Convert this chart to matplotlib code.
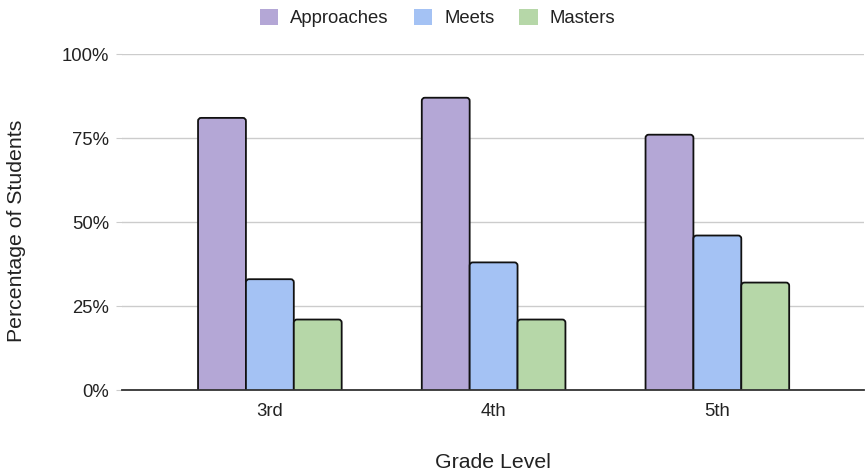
import numpy as np
import matplotlib
matplotlib.use("Agg")
import matplotlib.pyplot as plt
from matplotlib.patches import FancyBboxPatch, Patch

plt.rcParams['font.family'] = ['Liberation Sans', 'DejaVu Sans']

grades = ["3rd", "4th", "5th"]
series = ["Approaches", "Meets", "Masters"]
approaches = [81, 87, 76]
meets = [33, 38, 46]
masters = [21, 21, 32]
colors = ["#b4a7d6", "#a4c2f4", "#b6d7a8"]

fig = plt.figure(figsize=(8.65, 4.74), dpi=100)
ax = fig.add_axes([0.141, 0.177, 0.858, 0.709])

x = np.arange(len(grades))
w = 0.214
for i, (vals, c) in enumerate(zip([approaches, meets, masters], colors)):
    bars = ax.bar(x + (i - 1) * w, np.array(vals) / 100, w, color=c)
    # swap plain rectangles for rounded ones (bottom corners hidden below 0)
    for r in bars:
        bx, by, bw, bh = r.get_x(), r.get_y(), r.get_width(), r.get_height()
        r.remove()
        p = FancyBboxPatch((bx, by - 0.02), bw, bh + 0.02,
                           boxstyle="round,pad=0,rounding_size=0.014",
                           mutation_aspect=0.67,
                           facecolor=c, edgecolor="#111111", linewidth=1.3,
                           zorder=2)
        ax.add_patch(p)

ax.set_xlim(-0.661, 2.656)
ax.set_ylim(0, 1)
ax.set_yticks([0, 0.25, 0.5, 0.75, 1.0])
ax.set_yticklabels(["0%", "25%", "50%", "75%", "100%"])
ax.set_xticks(x)
ax.set_xticklabels(grades)

ax.grid(axis="y", color="#cccccc", linewidth=1.0, zorder=0)
ax.set_axisbelow(True)
for s in ["top", "right", "left"]:
    ax.spines[s].set_visible(False)
ax.spines["bottom"].set_color("#333333")
ax.spines["bottom"].set_linewidth(1.3)
ax.spines["bottom"].set_zorder(3)
ax.tick_params(axis="y", length=4, color="#cccccc", labelsize=13.3, labelcolor="#222222", pad=5)
ax.tick_params(axis="x", length=0, labelsize=13.3, labelcolor="#222222", pad=9)

ax.set_ylabel("Percentage of Students", fontsize=15.3, color="#222222")
ax.yaxis.set_label_coords(-0.129, 0.473)
ax.set_xlabel("Grade Level", fontsize=15.3, color="#222222", labelpad=24)

handles = [Patch(facecolor=c, edgecolor="none") for c in colors]
fig.legend(handles, series, loc="center", bbox_to_anchor=(0.506, 0.962), ncol=3,
           frameon=False, fontsize=13.3, handlelength=1.0, handleheight=1.0,
           handletextpad=0.65, columnspacing=1.35, labelcolor="#222222")

fig.savefig("out.png", dpi=100)
